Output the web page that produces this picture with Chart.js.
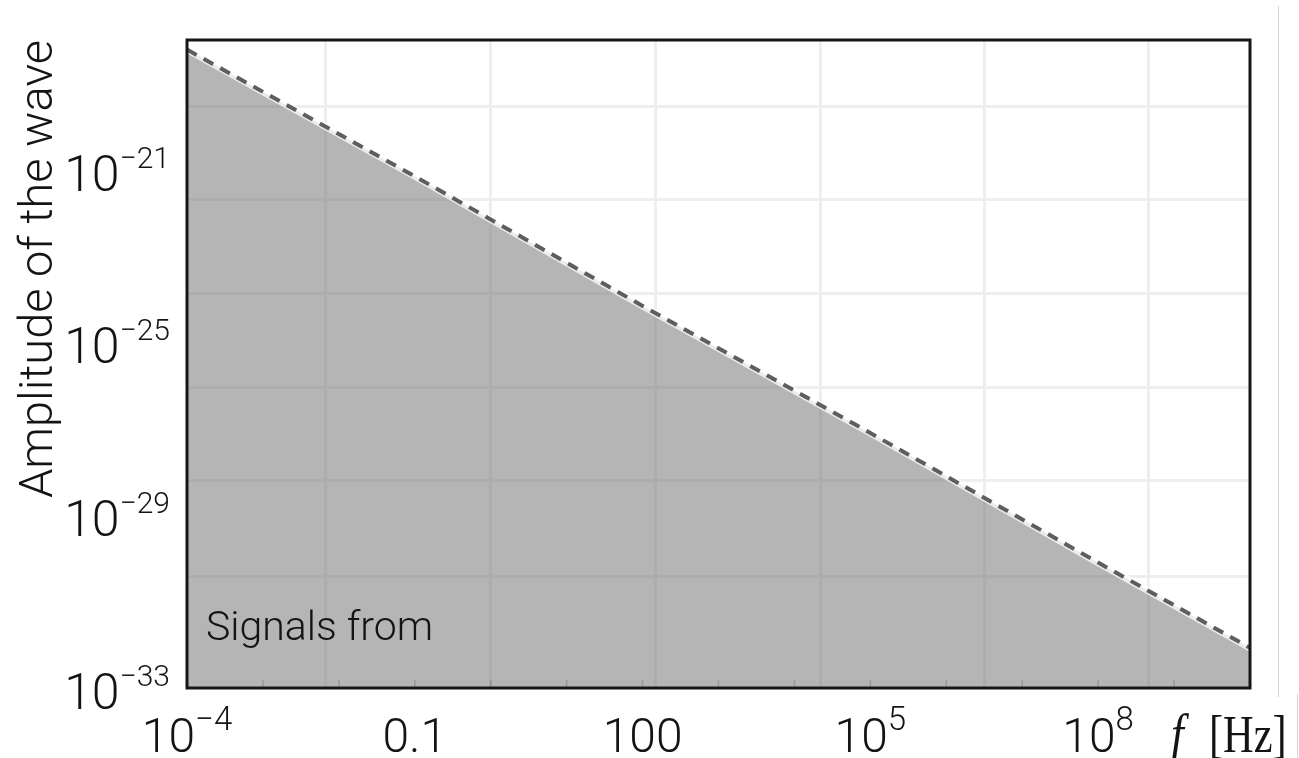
<!DOCTYPE html>
<html>
<head>
<meta charset="utf-8">
<script src="https://cdn.jsdelivr.net/npm/chart.js@4.4.1/dist/chart.umd.min.js"></script>
<style>
  html, body { margin: 0; padding: 0; background: #fff; }
  #wrap { position: relative; width: 1299px; height: 758px; overflow: hidden; }
  canvas { display: block; }
  .seam { position: absolute; width: 1px; background: #d2d2d2; }
</style>
</head>
<body>
<div id="wrap">
  <canvas id="c" width="1299" height="758"></canvas>
  <div class="seam" style="left:1278px; top:6px; height:691px;"></div>
  <div class="seam" style="left:1297px; top:694px; height:64px;"></div>
</div>
<script>
// Strain amplitude bound versus frequency (log-log)
const FREQ_HZ   = [1e-4, 1e-1, 1e2, 1e5, 1e8, 1e10];
const AMPLITUDE = [6e-19, 7e-22, 7e-25, 8e-28, 8e-31, 8.5e-33];

// Axis ranges and labelled ticks
const X_RANGE = [1e-4, 1e10];
const Y_RANGE = [1e-33, 1e-18];
const X_TICKS = [1e-4, 1e-1, 1e2, 1e5, 1e8];
const X_TICK_LABELS = [['10', '\u22124'], ['0.1', ''], ['100', ''], ['10', '5'], ['10', '8']];
const Y_TICKS = [1e-21, 1e-25, 1e-29, 1e-33];
const Y_TICK_LABELS = [['10', '\u221221'], ['10', '\u221225'], ['10', '\u221229'], ['10', '\u221233']];

// Background grid, in decades
const X_GRID_EXP = [-2.18, 0, 2.17, 4.34, 6.5, 8.66];
const Y_GRID_EXP = [-30.43, -28.2, -26.05, -23.86, -21.7, -19.53];

// Minor decade marks along the bottom edge
const X_MINOR_EXP = [-3, -2, -1, 0, 1, 2, 3, 4, 5, 6, 7, 8, 9];

const Y_TITLE = 'Amplitude of the wave';
const NOTE = 'Signals from';
const UNIT_VAR = 'f';
const UNIT = '[Hz]';

const SANS = 'Roboto, "Liberation Sans", Arial, sans-serif';
const SERIF = '"Liberation Serif", "DejaVu Serif", serif';
const INK = '#141414';

function drawPower(ctx, base, exp, x, y, align, baseFont, expFont, rise) {
  ctx.font = baseFont;
  const bw = ctx.measureText(base).width;
  ctx.font = expFont;
  const ew = exp ? ctx.measureText(exp).width : 0;
  const total = bw + ew;
  const left = align === 'right' ? x - total : x - total / 2;
  ctx.textAlign = 'left';
  ctx.textBaseline = 'alphabetic';
  ctx.font = baseFont;
  ctx.fillText(base, left, y);
  if (exp) {
    ctx.font = expFont;
    ctx.fillText(exp, left + bw, y - rise);
  }
}

const decorations = {
  id: 'decorations',
  afterDatasetsDraw(chart) {
    const ctx = chart.ctx;
    const { left, right, top, bottom } = chart.chartArea;
    const xs = chart.scales.x;
    ctx.save();
    // faint decade marks on the inside of the bottom edge
    ctx.strokeStyle = 'rgba(110,110,110,0.4)';
    ctx.lineWidth = 1.5;
    X_MINOR_EXP.forEach(e => {
      const px = xs.getPixelForValue(Math.pow(10, e));
      ctx.beginPath();
      ctx.moveTo(px, bottom - 1);
      ctx.lineTo(px, bottom - 8);
      ctx.stroke();
    });
    // plot frame
    ctx.strokeStyle = '#161616';
    ctx.lineWidth = 3;
    ctx.strokeRect(left, top, right - left, bottom - top);
    ctx.restore();
  },
  afterDraw(chart) {
    const ctx = chart.ctx;
    const { left, right, top, bottom } = chart.chartArea;
    const xs = chart.scales.x;
    const ys = chart.scales.y;
    ctx.save();
    ctx.fillStyle = INK;

    // y tick labels
    Y_TICKS.forEach((v, i) => {
      const py = ys.getPixelForValue(v);
      drawPower(ctx, Y_TICK_LABELS[i][0], Y_TICK_LABELS[i][1], left - 17, py + 21,
        'right', `300 50px ${SANS}`, `300 30px ${SANS}`, 23);
    });

    // x tick labels
    X_TICKS.forEach((v, i) => {
      const px = xs.getPixelForValue(v);
      drawPower(ctx, X_TICK_LABELS[i][0], X_TICK_LABELS[i][1], px, bottom + 64,
        'center', `300 48px ${SANS}`, `300 33px ${SANS}`, 22);
    });

    // y axis title
    ctx.save();
    ctx.translate(left - 135, top + 229);
    ctx.rotate(-Math.PI / 2);
    ctx.textAlign = 'center';
    ctx.textBaseline = 'alphabetic';
    ctx.font = `300 47px ${SANS}`;
    ctx.fillText(Y_TITLE, 0, 0);
    ctx.restore();

    // x axis unit
    ctx.textAlign = 'left';
    ctx.textBaseline = 'alphabetic';
    ctx.save();
    ctx.translate(right - 79, bottom + 64);
    ctx.scale(0.85, 1);
    ctx.font = `italic 54px ${SERIF}`;
    ctx.fillText(UNIT_VAR, 0, 0);
    ctx.restore();
    ctx.save();
    ctx.translate(right - 41, bottom + 64);
    ctx.scale(0.8, 1);
    ctx.font = `53px ${SERIF}`;
    ctx.fillText(UNIT, 0, 0);
    ctx.restore();

    // annotation inside the shaded region
    ctx.font = `300 41px ${SANS}`;
    ctx.fillText(NOTE, left + 19, bottom - 48);
    ctx.restore();
  }
};

const points = FREQ_HZ.map((f, i) => ({ x: f, y: AMPLITUDE[i] }));

new Chart(document.getElementById('c'), {
  type: 'line',
  data: {
    datasets: [
      {
        data: points,
        borderColor: '#5e5e5e',
        borderWidth: 4,
        borderDash: [11, 8],
        pointRadius: 0,
        fill: false,
        tension: 0,
        order: 0
      },
      {
        data: points,
        borderColor: 'rgba(255,255,255,0.75)',
        borderWidth: 7,
        pointRadius: 0,
        fill: 'start',
        backgroundColor: 'rgba(107,107,107,0.5)',
        tension: 0,
        order: 1
      }
    ]
  },
  options: {
    responsive: false,
    animation: false,
    events: [],
    layout: { padding: { top: 40, right: 49, left: 0, bottom: 0 } },
    plugins: { legend: { display: false }, tooltip: { enabled: false } },
    scales: {
      x: {
        type: 'logarithmic',
        min: X_RANGE[0],
        max: X_RANGE[1],
        afterBuildTicks: s => { s.ticks = X_GRID_EXP.map(e => ({ value: Math.pow(10, e) })); },
        afterFit: s => { s.height = 70; },
        grid: { color: '#eeeeee', lineWidth: 3, drawTicks: false },
        border: { display: false },
        ticks: { display: false }
      },
      y: {
        type: 'logarithmic',
        min: Y_RANGE[0],
        max: Y_RANGE[1],
        afterBuildTicks: s => { s.ticks = Y_GRID_EXP.map(e => ({ value: Math.pow(10, e) })); },
        afterFit: s => { s.width = 187; },
        grid: { color: '#eeeeee', lineWidth: 3, drawTicks: false },
        border: { display: false },
        ticks: { display: false }
      }
    }
  },
  plugins: [decorations]
});
</script>
</body>
</html>
